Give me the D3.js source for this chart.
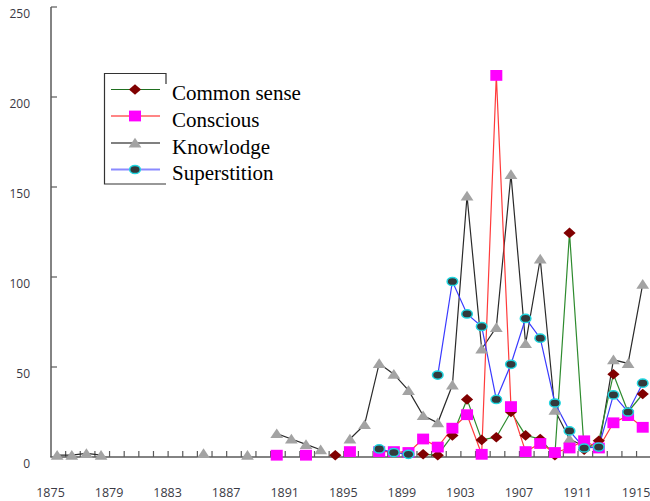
<!DOCTYPE html>
<html>
<head>
<meta charset="utf-8">
<script src="https://cdn.jsdelivr.net/npm/d3@7"></script>
<style>
  html, body { margin: 0; padding: 0; background: #fff; }
  svg { display: block; }
</style>
</head>
<body>
<svg id="chart" width="650" height="501"></svg>
<script>
// ---- data ----
const years = [1875,1876,1877,1878,1879,1880,1881,1882,1883,1884,1885,1886,1887,1888,1889,1890,
  1891,1892,1893,1894,1895,1896,1897,1898,1899,1900,1901,1902,1903,1904,1905,1906,1907,1908,
  1909,1910,1911,1912,1913,1914,1915];

const commonSense = [null,null,null,null,null,null,null,null,null,null,null,null,null,null,null,null,
  null,null,null,1,null,null,null,null,null,1.5,1,12,32,9.5,11,25,12,10,
  1,124.5,4,9,46,25,35];

const conscious = [null,null,null,null,null,null,null,null,null,null,null,null,null,null,null,1,
  null,1,null,null,3,null,3,3,2.5,10,5.5,16,23.5,1.5,212,28,3,7.5,
  2.5,5,9,5,19,23,16.5];

const knowlodge = [1,1,2,1,null,null,null,null,null,null,2,null,null,1,null,13,
  10,7,4,null,10,18,52,46,37,23,19,40,145,60,72,157,63,110,
  26,10,6,5,54,52,96];

const superstition = [null,null,null,null,null,null,null,null,null,null,null,null,null,null,null,null,
  null,null,null,null,null,null,4.5,2.5,1.5,null,45.5,97.5,79.5,72.5,32,51.5,77,66,
  30,14.5,5,5.5,34.5,25,41];

const seriesNames = ["Common sense", "Conscious", "Knowlodge", "Superstition"];
const xTickLabels = [1875,1879,1883,1887,1891,1895,1899,1903,1907,1911,1915];
const yTickLabels = [0,50,100,150,200,250];

// ---- setup ----
const svg = d3.select("#chart");
const x = d3.scaleLinear().domain([1875, 1916]).range([51, 651.2]);
const y = d3.scaleLinear().domain([0, 250]).range([457, 7]);
const pointOffset = 0.42; // points sit inside each year interval

const styles = {
  "Common sense": { line: "#2e8b2e", legendLine: "#1f6f1f", shape: "diamond", fill: "#800000", stroke: "none" },
  "Conscious":    { line: "#ff3b3b", legendLine: "#ff8585", shape: "square",  fill: "#ff00ff", stroke: "none" },
  "Knowlodge":    { line: "#2a2a2a", legendLine: "#808080", shape: "triangle",fill: "#a3a3a3", stroke: "none" },
  "Superstition": { line: "#3a3aff", legendLine: "#8a8aff", shape: "circle",  fill: "#333a3c", stroke: "#1fd6e0" }
};
const dataBy = {
  "Common sense": commonSense,
  "Conscious": conscious,
  "Knowlodge": knowlodge,
  "Superstition": superstition
};

function markerPath(shape) {
  switch (shape) {
    case "diamond":  return "M0,-5.3L6.1,0L0,5.3L-6.1,0Z";
    case "square":   return "M-6,-5.4H6V5.4H-6Z";
    case "triangle": return "M0,-5.2L6.4,4.5H-6.4Z";
  }
  return null;
}
function drawMarker(g, shape, st) {
  if (shape === "circle") {
    g.append("ellipse").attr("rx", 5.3).attr("ry", 4.1)
      .attr("fill", st.fill).attr("stroke", st.stroke).attr("stroke-width", 1.5);
  } else {
    g.append("path").attr("d", markerPath(shape)).attr("fill", st.fill);
  }
}

// ---- axes ----
const axisColor = "#5a5a5a";
// y axis
const yAxis = svg.append("g").attr("class", "y-axis");
yAxis.append("line").attr("x1", 51).attr("x2", 51).attr("y1", y(250)).attr("y2", y(0))
  .attr("stroke", axisColor).attr("stroke-width", 1.5);
yAxis.selectAll("line.tick").data(yTickLabels.filter(d => d > 0)).join("line")
  .attr("class", "tick").attr("x1", 51).attr("x2", 57).attr("y1", d => y(d)).attr("y2", d => y(d))
  .attr("stroke", axisColor).attr("stroke-width", 1.2);
yAxis.selectAll("text").data(yTickLabels).join("text")
  .attr("x", 30).attr("y", d => y(d) + 10.5)
  .attr("text-anchor", "end")
  .attr("font-family", "'Open Sans', sans-serif").attr("font-size", 12)
  .attr("fill", "#3a3a44")
  .text(d => d);

// x axis
const xAxis = svg.append("g").attr("class", "x-axis");
xAxis.append("line").attr("x1", 50.3).attr("x2", 650).attr("y1", y(0)).attr("y2", y(0))
  .attr("stroke", axisColor).attr("stroke-width", 1.5);
xAxis.selectAll("line.tick").data(years.slice(1)).join("line")
  .attr("class", "tick").attr("x1", d => x(d)).attr("x2", d => x(d))
  .attr("y1", y(0)).attr("y2", y(0) - 6)
  .attr("stroke", axisColor).attr("stroke-width", 1.2);
xAxis.selectAll("text").data(xTickLabels).join("text")
  .attr("x", d => x(d) - 0.5).attr("y", 497)
  .attr("text-anchor", "middle")
  .attr("font-family", "'Open Sans', sans-serif").attr("font-size", 12.5)
  .attr("fill", "#3a3a44")
  .text(d => d);

// ---- lines ----
const line = d3.line()
  .defined(d => d.v !== null)
  .x(d => x(d.year + pointOffset))
  .y(d => y(d.v));

const drawOrder = ["Knowlodge", "Common sense", "Conscious", "Superstition"];
const plot = svg.append("g").attr("class", "plot");
drawOrder.forEach(name => {
  const pts = years.map((yr, i) => ({ year: yr, v: dataBy[name][i] }));
  plot.append("path").datum(pts)
    .attr("fill", "none").attr("stroke", styles[name].line).attr("stroke-width", 1.2)
    .attr("d", line);
});
drawOrder.forEach(name => {
  const st = styles[name];
  const pts = years.map((yr, i) => ({ year: yr, v: dataBy[name][i] })).filter(d => d.v !== null);
  plot.append("g").selectAll("g").data(pts).join("g")
    .attr("transform", d => `translate(${x(d.year + pointOffset)},${y(d.v)})`)
    .each(function() { drawMarker(d3.select(this), st.shape, st); });
});

// ---- legend ----
const legend = svg.append("g").attr("class", "legend");
legend.append("path").attr("d", "M166,84V73.5H104.5V184H166")
  .attr("fill", "none").attr("stroke", "#333").attr("stroke-width", 1.2);
const rowY = [89.5, 116, 143, 169.5];
seriesNames.forEach((name, i) => {
  const st = styles[name];
  const g = legend.append("g").attr("transform", `translate(0,${rowY[i]})`);
  g.append("line").attr("x1", 111).attr("x2", 160).attr("y1", 0).attr("y2", 0)
    .attr("stroke", st.legendLine).attr("stroke-width", i === 0 ? 1.2 : 2);
  const m = g.append("g").attr("transform", "translate(135,0)");
  drawMarker(m, st.shape, st);
  g.append("text").attr("x", 172).attr("y", 10.5)
    .attr("font-family", "'Liberation Serif', 'Times New Roman', serif").attr("font-size", 21)
    .attr("fill", "#000").text(name);
});
</script>
</body>
</html>
